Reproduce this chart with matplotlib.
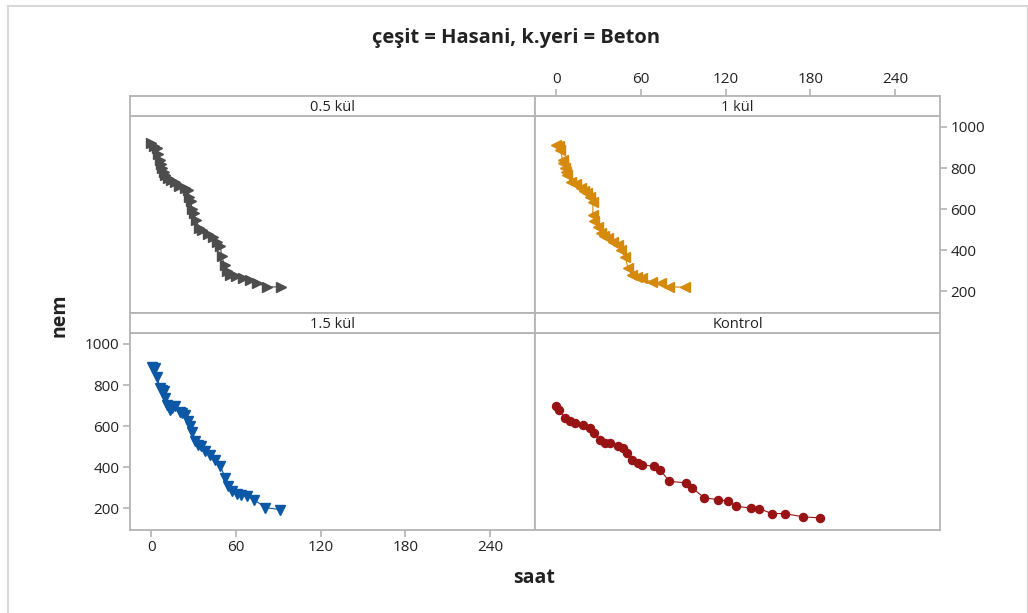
import matplotlib
matplotlib.use("Agg")
import matplotlib.pyplot as plt
from matplotlib.lines import Line2D
import numpy as np

plt.rcParams['font.family'] = ['Open Sans', 'DejaVu Sans']

title = "çeşit = Hasani, k.yeri = Beton"
panels = ["0.5 kül", "1 kül", "1.5 kül", "Kontrol"]

t_05 = [0, 2, 4, 5, 6, 7, 8, 9, 10, 12, 14, 17, 20, 24, 26, 27, 28, 29, 30, 32,
        34, 36, 40, 44, 47, 49, 50, 52, 54, 56, 60, 65, 70, 75, 82, 92]
v_05 = [920, 905, 895, 870, 840, 820, 800, 780, 765, 750, 740, 730, 715, 705, 695, 660,
        640, 600, 580, 545, 510, 500, 480, 465, 440, 420, 370, 330, 300, 280, 275, 265,
        255, 240, 222, 222]

t_1 = [0, 2, 3, 4.5, 5, 6, 7, 8, 10.5, 14, 17.7, 20, 22, 24, 26, 26, 27, 29.5, 32,
       34, 37, 40, 44, 46, 49, 51, 53.7, 57, 61, 68, 74, 80, 91]
v_1 = [912, 905, 888, 840, 824, 800, 780, 766, 733, 720, 702, 690, 678, 660, 636, 571,
       540, 514, 483, 470, 458, 440, 424, 400, 367, 312, 278, 270, 263, 245, 239, 221, 221]

t_15 = [0.5, 2.8, 4, 6.4, 8, 9, 10, 11, 13.5, 15, 17, 20.6, 22, 24, 26.3, 27.5, 29, 31.2,
        33, 35, 38.4, 42, 45.5, 49, 52.6, 54.8, 57, 61, 64, 68, 72.6, 81, 91.6]
v_15 = [890, 885, 841, 786, 775, 770, 737, 704, 680, 690, 700, 671, 665, 655, 623, 600,
        574, 526, 510, 502, 477, 460, 437, 404, 350, 307, 283, 270, 265, 259, 243, 204, 194]

t_k = [0, 2, 6, 9.5, 13, 19, 23.7, 27, 31, 34.4, 38, 44, 47.6, 50, 53.5, 58, 61, 69,
       73.8, 80, 92, 96.5, 105, 114.5, 121.6, 127.6, 138, 144, 152.7, 162, 175, 187]
v_k = [696, 680, 639, 623, 615, 607, 591, 566, 534, 518, 518, 502, 494, 469, 437, 421,
       413, 404, 388, 332, 324, 299, 251, 243, 235, 210, 202, 199, 175, 175, 159, 154]

series = [(t_05, v_05), (t_1, v_1), (t_15, v_15), (t_k, v_k)]
colors = ["#4d4d4d", "#d58a0c", "#0c58a6", "#981414"]
markers = [">", "<", "v", "o"]
msizes = [7.2, 7.2, 7.2, 5.8]

xticks = [0, 60, 120, 180, 240]
yticks = [200, 400, 600, 800, 1000]
xlim = (-15, 272)
ylim = (95, 1053)

W, H = 1028, 613
fig = plt.figure(figsize=(W / 100, H / 100), dpi=100)

def fx(px):
    return px / W

def fy(py):
    return 1 - py / H

edge = "#b4b4b4"
txt = "#222222"
tsize = 11

# panel geometry in pixels
cols = [(130, 535), (535, 940)]
rows = [(96, 116, 313), (313, 333, 530)]

for i, name in enumerate(panels):
    r, c = divmod(i, 2)
    x0, x1 = cols[c]
    s0, d0, d1 = rows[r]
    ax = fig.add_axes([fx(x0), fy(d1), fx(x1 - x0), (d1 - d0) / H])
    t, v = series[i]
    ax.plot(t, v, color=colors[i], lw=0.8, marker=markers[i], ms=msizes[i],
            mec=colors[i], mfc=colors[i])
    ax.set_xlim(*xlim)
    ax.set_ylim(*ylim)
    for sp in ax.spines.values():
        sp.set_color(edge)
        sp.set_linewidth(1.3)
    ax.tick_params(colors=edge, labelcolor=txt, labelsize=tsize, length=5, width=1.2, pad=2.5)
    ax.set_xticks(xticks)
    ax.set_yticks(yticks)
    if i == 0:
        ax.tick_params(left=False, bottom=False, labelleft=False, labelbottom=False)
    elif i == 1:
        ax.tick_params(left=False, bottom=False, labelleft=False, labelbottom=False,
                       right=True, labelright=True, top=False, labeltop=False)
        sec = ax.secondary_xaxis(1 + (d0 - s0) / (d1 - d0))
        sec.set_xticks(xticks)
        sec.tick_params(colors=edge, labelcolor=txt, labelsize=tsize, length=5, width=1.2, pad=1.5)
        sec.spines['top'].set_visible(False)
    elif i == 2:
        ax.tick_params(left=True, bottom=True, labelleft=True, labelbottom=True)
    else:
        ax.tick_params(left=False, bottom=False, labelleft=False, labelbottom=False)
    # strip
    sax = fig.add_axes([fx(x0), fy(d0), fx(x1 - x0), (d0 - s0) / H])
    sax.set_xticks([])
    sax.set_yticks([])
    for sp in sax.spines.values():
        sp.set_color(edge)
        sp.set_linewidth(1.3)
    sax.text(0.5, 0.42, name, ha="center", va="center", fontsize=10.5, color=txt,
             transform=sax.transAxes)

fig.text(fx(516), fy(38), title, ha="center", va="center", fontsize=14.5,
         fontweight="bold", color=txt)
fig.text(fx(60), fy(315), "nem", ha="center", va="center", rotation=90,
         fontsize=14, fontweight="bold", color=txt)
fig.text(fx(534), fy(578), "saat", ha="center", va="center", fontsize=14,
         fontweight="bold", color=txt)

# outer frame lines
fr = "#d8d8d8"
fig.add_artist(Line2D([fx(8), fx(8)], [fy(6), 0], color=fr, lw=1.5, transform=fig.transFigure))
fig.add_artist(Line2D([fx(8), 1], [fy(6), fy(6)], color=fr, lw=1.5, transform=fig.transFigure))
fig.add_artist(Line2D([fx(1027), fx(1027)], [fy(6), 0], color=fr, lw=1.0, transform=fig.transFigure))

fig.savefig("out.png", dpi=100)
